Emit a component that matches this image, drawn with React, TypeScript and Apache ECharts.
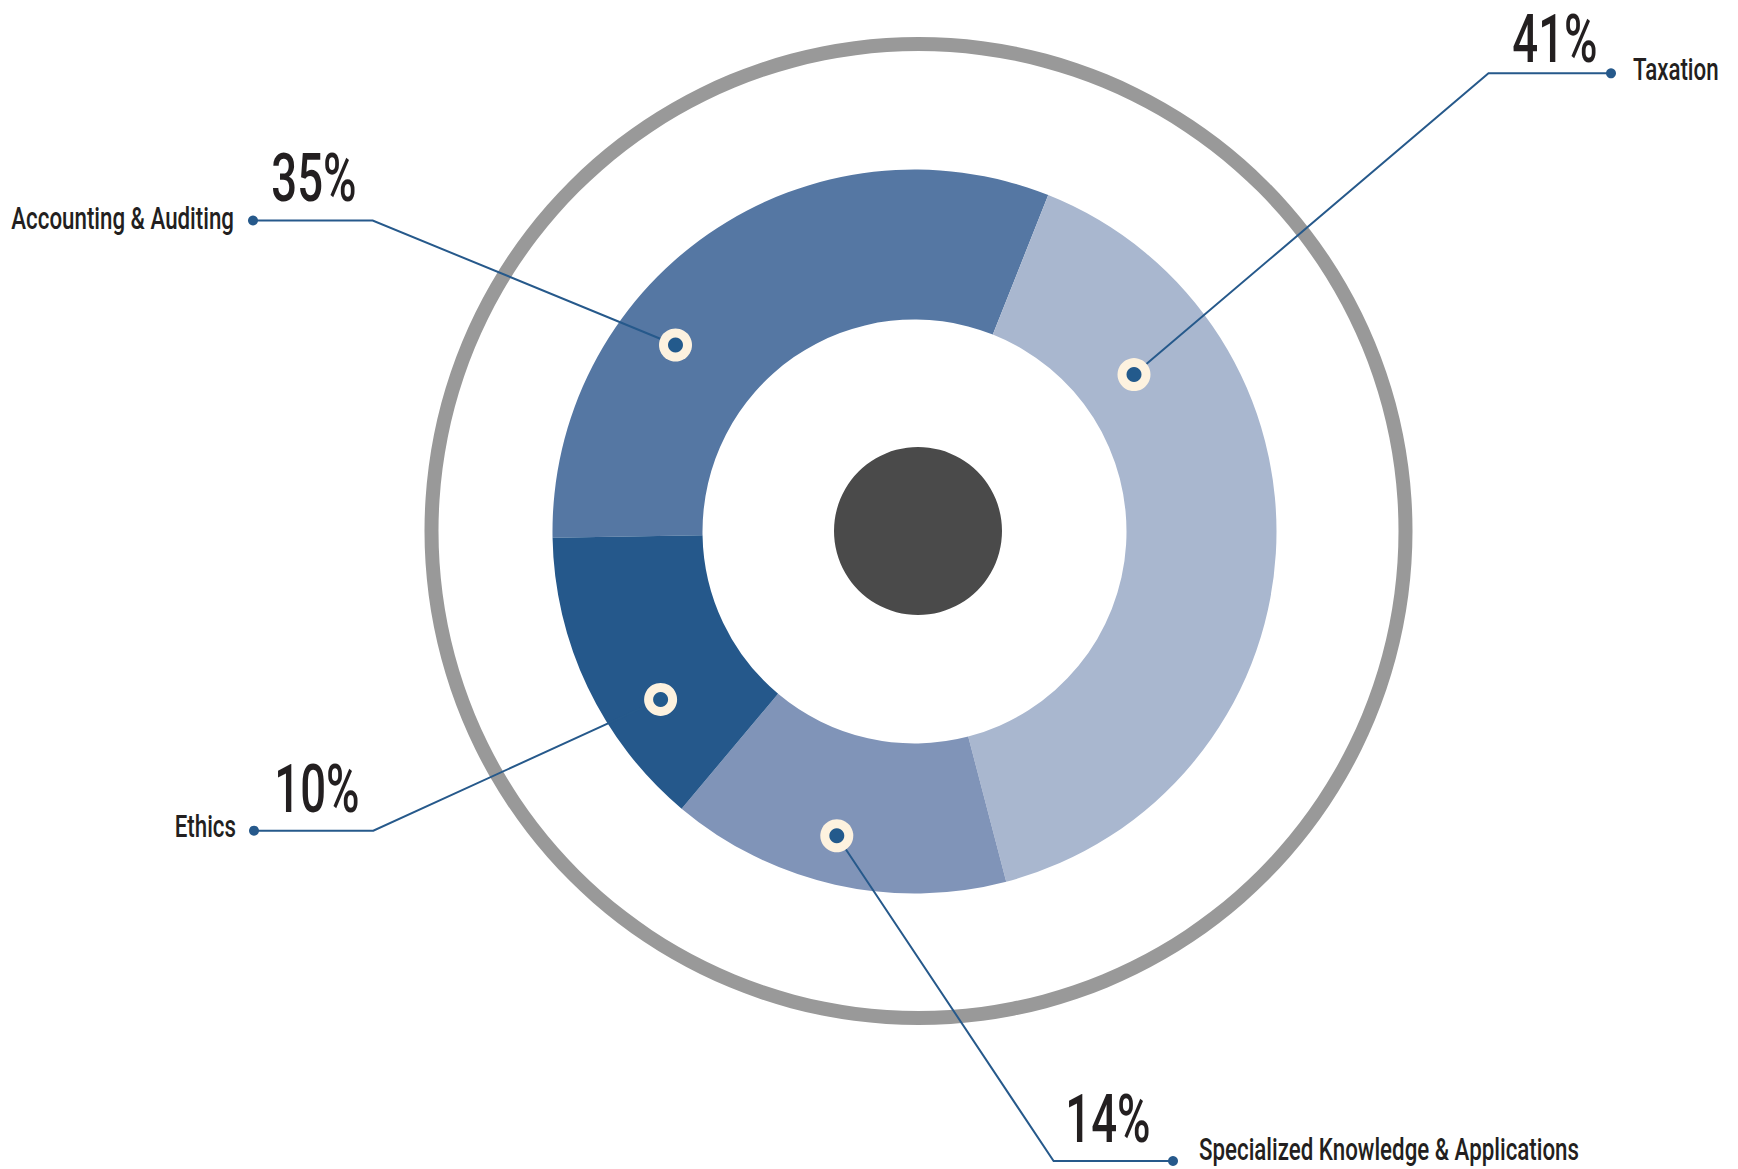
import React, { useEffect, useRef } from "react";
import * as echarts from "echarts";

// ---- data ----
const categories = [
  "Accounting & Auditing",
  "Taxation",
  "Specialized Knowledge & Applications",
  "Ethics",
];
const percentLabels = ["35%", "41%", "14%", "10%"];
// angular share (% of full turn) of each slice as drawn in the picture
const sliceShares = [31.3, 39.9, 15.2, 13.6];

// ---- styling / layout (not data) ----
const sliceColors = ["#5577a3", "#a9b7cf", "#8094b8", "#25588b"];
const lineColor = "#26598b";
const textColor = "#231f20";
const FONT = "Roboto, 'Liberation Sans', sans-serif";

type Callout = {
  marker: [number, number];
  elbow: [number, number];
  dot: [number, number];
  side: "left" | "right";
  labelX: number;
  labelY: number;
  pctX: number;
  pctY: number;
};
const callouts: Callout[] = [
  { marker: [675.5, 345], elbow: [372.7, 220.5], dot: [253, 220.5], side: "left", labelX: 234, labelY: 218.5, pctX: 314, pctY: 178.5 },
  { marker: [1134, 374.6], elbow: [1488.5, 73.3], dot: [1611, 73.3], side: "right", labelX: 1633, labelY: 70, pctX: 1555, pctY: 39.5 },
  { marker: [836.8, 835.7], elbow: [1053.6, 1161], dot: [1173, 1161], side: "right", labelX: 1199, labelY: 1150, pctX: 1108, pctY: 1119 },
  { marker: [660.6, 699.4], elbow: [373.3, 830.7], dot: [254, 830.7], side: "left", labelX: 236, labelY: 826.5, pctX: 317, pctY: 789.5 },
];

export default function App() {
  const ref = useRef<HTMLDivElement>(null);

  useEffect(() => {
    document.body.style.margin = "0";
    const chart = echarts.init(ref.current!, undefined, { renderer: "svg" });

    const graphics: any[] = [];
    // outer grey ring
    graphics.push({
      type: "ring",
      z: 100,
      silent: true,
      shape: { cx: 918.5, cy: 531, r: 494, r0: 480 },
      style: { fill: "#999999" },
    });
    // dark center disc
    graphics.push({
      type: "circle",
      z: 100,
      silent: true,
      shape: { cx: 918, cy: 531, r: 84 },
      style: { fill: "#4a4a4a" },
    });

    callouts.forEach((c, i) => {
      graphics.push({
        type: "polyline",
        z: 101,
        silent: true,
        shape: { points: [c.marker, c.elbow, c.dot] },
        style: { stroke: lineColor, lineWidth: 2, fill: "none" },
      });
      graphics.push({
        type: "circle",
        z: 102,
        silent: true,
        shape: { cx: c.dot[0], cy: c.dot[1], r: 5 },
        style: { fill: lineColor },
      });
      graphics.push({
        type: "circle",
        z: 102,
        silent: true,
        shape: { cx: c.marker[0], cy: c.marker[1], r: 16.5 },
        style: { fill: "#fdf2df" },
      });
      graphics.push({
        type: "circle",
        z: 103,
        silent: true,
        shape: { cx: c.marker[0], cy: c.marker[1], r: 7.5 },
        style: { fill: "#235a8c" },
      });
      const align = c.side === "left" ? "right" : "left";
      graphics.push({
        type: "text",
        z: 104,
        silent: true,
        x: c.labelX,
        y: c.labelY,
        scaleX: 0.72,
        style: {
          text: categories[i],
          x: 0,
          y: 0,
          fill: textColor,
          fontSize: 31,
          fontFamily: FONT,
          fontWeight: 500,
          textAlign: align,
          align: align,
          textVerticalAlign: "middle",
          verticalAlign: "middle",
        },
      });
      graphics.push({
        type: "text",
        z: 104,
        silent: true,
        x: c.pctX,
        y: c.pctY,
        scaleX: 0.69,
        style: {
          text: percentLabels[i],
          x: 0,
          y: 0,
          fill: textColor,
          fontSize: 66,
          fontFamily: FONT,
          fontWeight: 500,
          textAlign: "center",
          align: "center",
          textVerticalAlign: "middle",
          verticalAlign: "middle",
        },
      });
    });

    chart.setOption({
      animation: false,
      backgroundColor: "#ffffff",
      tooltip: { show: false },
      series: [
        {
          type: "pie",
          center: [914.5, 531.5],
          radius: [212, 362],
          startAngle: 181,
          clockwise: true,
          silent: true,
          avoidLabelOverlap: false,
          label: { show: false },
          labelLine: { show: false },
          emphasis: { disabled: true },
          itemStyle: { borderWidth: 0 },
          data: categories.map((name, i) => ({
            name,
            value: sliceShares[i],
            itemStyle: { color: sliceColors[i] },
          })),
        },
      ],
      graphic: { elements: graphics },
    });

    return () => chart.dispose();
  }, []);

  return <div ref={ref} style={{ width: 1738, height: 1169 }} />;
}
